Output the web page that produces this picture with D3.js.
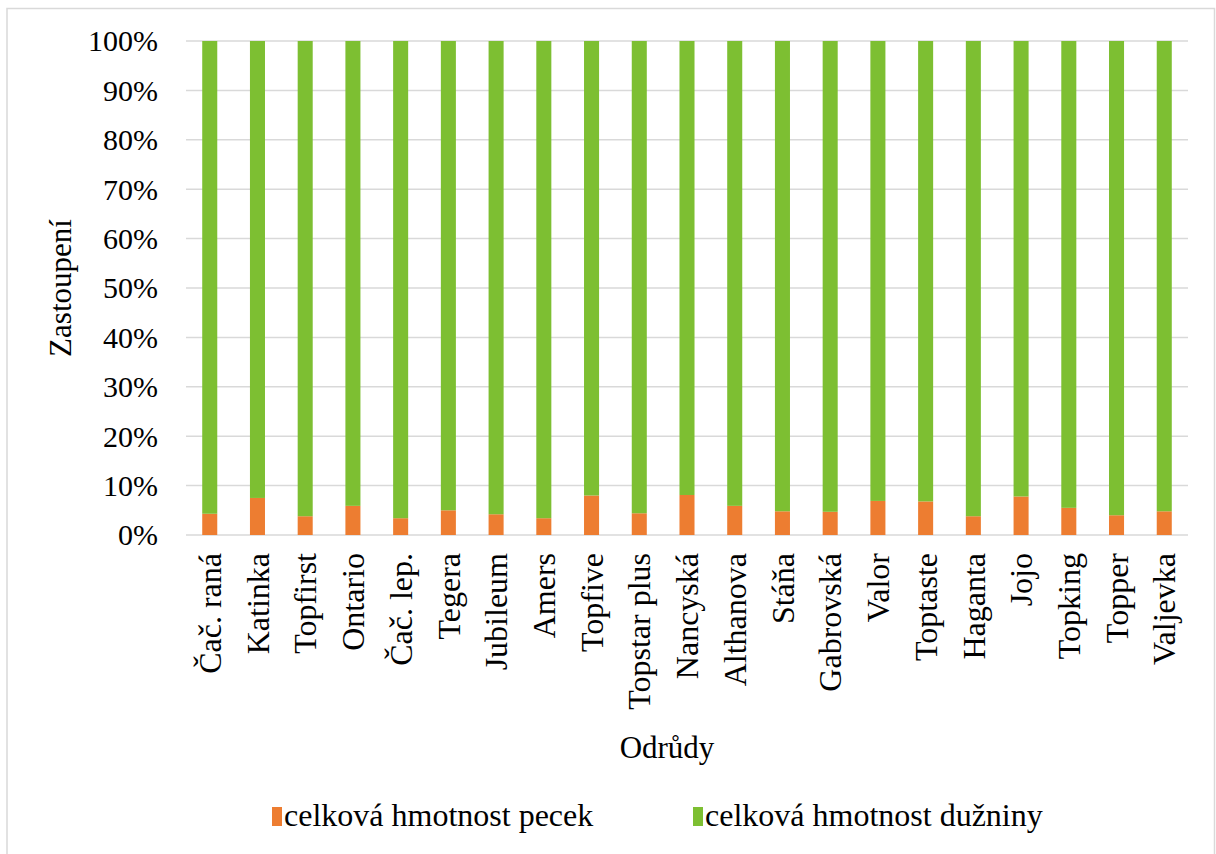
<!DOCTYPE html>
<html>
<head>
<meta charset="utf-8">
<script src="https://cdn.jsdelivr.net/npm/d3@7"></script>
<style>
  html, body { margin: 0; padding: 0; background: #fff; }
  svg { display: block; }
  text { font-family: "Liberation Serif", "Times New Roman", serif; fill: #000; }
</style>
</head>
<body>
<svg id="chart" width="1216" height="854"></svg>
<script>
// Varieties (x-axis categories)
const varieties = ["Čač. raná", "Katinka", "Topfirst", "Ontario", "Čač. lep.", "Tegera",
  "Jubileum", "Amers", "Topfive", "Topstar plus", "Nancyská", "Althanova", "Stáňa",
  "Gabrovská", "Valor", "Toptaste", "Haganta", "Jojo", "Topking", "Topper", "Valjevka"];

// Share of stone weight (%)
const stoneShare = [4.3, 7.5, 3.8, 5.9, 3.4, 5.0, 4.2, 3.4, 8.0, 4.4, 8.1, 5.9, 4.8,
  4.7, 6.9, 6.8, 3.8, 7.8, 5.5, 4.0, 4.8];

// Share of flesh weight (%)
const fleshShare = [95.7, 92.5, 96.2, 94.1, 96.6, 95.0, 95.8, 96.6, 92.0, 95.6, 91.9, 94.1, 95.2,
  95.3, 93.1, 93.2, 96.2, 92.2, 94.5, 96.0, 95.2];

const yTicks = [0, 10, 20, 30, 40, 50, 60, 70, 80, 90, 100];
const seriesNames = ["celková hmotnost pecek", "celková hmotnost dužniny"];
const seriesColors = ["#ed7d31", "#7dbf32"];

const svg = d3.select("#chart");
const plot = { left: 186, right: 1188, top: 41, bottom: 535 };

// outer frame
svg.append("rect")
  .attr("x", 7).attr("y", 8.5)
  .attr("width", 1207.5).attr("height", 860)
  .attr("fill", "none").attr("stroke", "#d9d9d9").attr("stroke-width", 1.5);

const x = d3.scaleBand().domain(varieties)
  .range([plot.left, plot.right]).paddingInner(0.685).paddingOuter(0.34);
const y = d3.scaleLinear().domain([0, 100]).range([plot.bottom, plot.top]);

// gridlines
svg.append("g").selectAll("line").data(yTicks).join("line")
  .attr("x1", plot.left).attr("x2", plot.right)
  .attr("y1", d => y(d)).attr("y2", d => y(d))
  .attr("stroke", "#d9d9d9").attr("stroke-width", 1.5);

// stacked bars
const rows = varieties.map((v, i) => ({ v, stone: stoneShare[i], flesh: fleshShare[i] }));
const stacked = d3.stack().keys(["stone", "flesh"])(rows);

svg.append("g").selectAll("g").data(stacked).join("g")
  .attr("fill", (d, i) => seriesColors[i])
  .selectAll("rect").data(d => d).join("rect")
  .attr("x", d => x(d.data.v))
  .attr("width", x.bandwidth())
  .attr("y", d => y(d[1]))
  .attr("height", d => y(d[0]) - y(d[1]));

// y axis labels
const yAxis = d3.axisLeft(y).tickValues(yTicks).tickFormat(d => d + "%").tickSize(0).tickPadding(0);
const gy = svg.append("g").attr("transform", `translate(158,0)`).call(yAxis);
gy.select(".domain").remove();
gy.selectAll("text").attr("font-size", 30).attr("font-family", "Liberation Serif, serif")
  .attr("fill", "#000").attr("dy", "0.33em");

// x axis labels, rotated
const xAxis = d3.axisBottom(x).tickSize(0).tickPadding(0);
const gx = svg.append("g").attr("transform", `translate(0,${plot.bottom})`).call(xAxis);
gx.select(".domain").remove();
gx.selectAll("text")
  .attr("font-size", 32).attr("font-family", "Liberation Serif, serif").attr("fill", "#000")
  .attr("text-anchor", "end")
  .attr("transform", "translate(0,18) rotate(-90)")
  .attr("x", 0).attr("y", 0).attr("dy", "0.35em");

// axis titles
svg.append("text")
  .attr("transform", "translate(71,288) rotate(-90)")
  .attr("text-anchor", "middle")
  .attr("font-size", 31).text("Zastoupení");

svg.append("text")
  .attr("x", 667).attr("y", 758)
  .attr("text-anchor", "middle")
  .attr("font-size", 31).text("Odrůdy");

// legend
const legendX = [272, 693];
const legend = svg.append("g").selectAll("g").data(seriesNames).join("g")
  .attr("transform", (d, i) => `translate(${legendX[i]},826)`);
legend.append("rect")
  .attr("x", 0).attr("y", -19).attr("width", 10).attr("height", 19)
  .attr("fill", (d, i) => seriesColors[i]);
legend.append("text")
  .attr("x", 12).attr("y", 0)
  .attr("font-size", 32).text(d => d);
</script>
</body>
</html>
